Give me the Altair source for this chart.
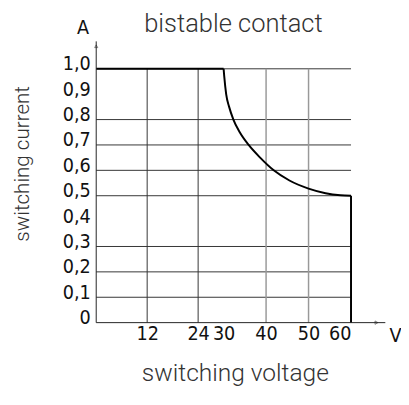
import altair as alt
import pandas as pd

# curve: switching current (A) vs switching voltage (V)
flat_v = [0, 30]
flat_i = [1.0, 1.0]
curve_v = [30, 30.15, 30.6, 31.3, 32.3, 33.8, 35.9, 38.6, 41.8, 45.5, 50.0, 54.0, 57.5, 60.0]
curve_i = [1.0, 0.97, 0.9, 0.85, 0.8, 0.75, 0.7, 0.65, 0.6, 0.56, 0.528, 0.51, 0.502, 0.5]
drop_v = [60, 60]
drop_i = [0.5, 0.0]

h_grid = [0.1, 0.2, 0.3, 0.5, 0.6, 0.7, 0.8, 1.0]
v_grid_dark = [12, 24]
v_grid_grey = [40, 50]
y_ticks = [0, 0.1, 0.2, 0.3, 0.4, 0.5, 0.6, 0.7, 0.8, 0.9, 1.0]
x_ticks = [12, 24, 30, 40, 50, 60]

LBL = "Liberation Sans Narrow, DejaVu Sans Condensed"
TXT = "Roboto"

xs = alt.Scale(domain=[0, 60], nice=False, zero=False)
ys = alt.Scale(domain=[0, 1.0], nice=False, zero=False)

x_axis = alt.Axis(
    values=x_ticks, grid=False, domain=False, ticks=False, labelPadding=1,
    labelOverlap=False, labelFont=LBL, labelFontSize=20, labelColor="#111",
    title="V", titleFont=LBL, titleFontSize=20, titleFontWeight="normal", titleColor="#111",
    titleX=305, titleY=13, titleAlign="center", titleBaseline="middle")
y_axis = alt.Axis(
    values=y_ticks, grid=False, domain=False, ticks=False, labelPadding=6,
    labelOverlap=False, labelBound=False, labelBaseline="alphabetic", labelOffset=1,
    labelExpr="datum.value == 0 ? '0' : replace(format(datum.value, '.1f'), '.', ',')",
    labelFont=LBL, labelFontSize=20, labelColor="#111",
    title="A", titleFont=LBL, titleFontSize=20, titleFontWeight="normal", titleColor="#111",
    titleAngle=0, titleX=-14, titleY=-42, titleAlign="center", titleBaseline="middle")

def X(f="v:Q"):
    return alt.X(f, scale=xs, axis=x_axis)

def Y(f="i:Q"):
    return alt.Y(f, scale=ys, axis=y_axis)

hgrid = alt.Chart(pd.DataFrame({"i": h_grid, "v": [0] * len(h_grid), "v2": [60] * len(h_grid)})).mark_rule(
    color="#333", strokeWidth=1).encode(y=Y(), x=X(), x2="v2:Q")
vgrid_d = alt.Chart(pd.DataFrame({"v": v_grid_dark, "i": [0] * 2, "i2": [1.0] * 2})).mark_rule(
    color="#333", strokeWidth=1).encode(x=X(), y=Y(), y2="i2:Q")
vgrid_g = alt.Chart(pd.DataFrame({"v": v_grid_grey, "i": [0] * 2, "i2": [1.0] * 2})).mark_rule(
    color="#999", strokeWidth=1.5).encode(x=X(), y=Y(), y2="i2:Q")

flat = alt.Chart(pd.DataFrame({"v": flat_v, "i": flat_i})).mark_line(color="#000", strokeWidth=2).encode(
    x=X(), y=Y())
curve = alt.Chart(pd.DataFrame({"v": curve_v, "i": curve_i})).mark_line(
    color="#000", strokeWidth=2, interpolate="monotone").encode(x=X(), y=Y())
drop = alt.Chart(pd.DataFrame({"v": drop_v, "i": drop_i})).mark_line(color="#000", strokeWidth=2).encode(
    x=X(), y=Y())

one = pd.DataFrame({"a": [0]})
yaxis_line = alt.Chart(one).mark_rule(color="#222", strokeWidth=1).encode(
    x=alt.value(0), y=alt.value(259), y2=alt.value(-28))
xaxis_line = alt.Chart(one).mark_rule(color="#222", strokeWidth=1).encode(
    x=alt.value(0), x2=alt.value(295), y=alt.value(259))
yarrow = alt.Chart(one).mark_point(shape="triangle-up", size=10, filled=False, color="#222", strokeWidth=0.8).encode(
    x=alt.value(0), y=alt.value(-23))
xarrow = alt.Chart(one).mark_point(shape="triangle-right", size=12, filled=False, color="#222", strokeWidth=0.8).encode(
    x=alt.value(286), y=alt.value(259))

title = alt.Chart(pd.DataFrame({"t": ["bistable contact"]})).mark_text(
    font=TXT, fontSize=26, fontWeight=300, color="#333", align="center", baseline="alphabetic").encode(
    text="t:N", x=alt.value(140), y=alt.value(-38))
ytitle = alt.Chart(pd.DataFrame({"t": ["switching current"]})).mark_text(
    font=TXT, fontSize=21, fontWeight=300, color="#333", angle=270, align="center", baseline="middle").encode(
    text="t:N", x=alt.value(-75), y=alt.value(97))
xtitle = alt.Chart(pd.DataFrame({"t": ["switching voltage"]})).mark_text(
    font=TXT, fontSize=25, fontWeight=300, color="#333", align="center", baseline="alphabetic").encode(
    text="t:N", x=alt.value(142), y=alt.value(319))

chart = alt.layer(hgrid, vgrid_d, vgrid_g, flat, curve, drop, yaxis_line, xaxis_line,
                  yarrow, xarrow, title, ytitle, xtitle).properties(
    width=260, height=259,
    padding={"left": 90, "top": 58, "right": 51, "bottom": 80},
    autosize=alt.AutoSizeParams(type="none"),
).configure_view(stroke=None).configure_axis(labelOverlap=False)

chart.save("out.html", embed_options={"renderer": "svg", "actions": False})
